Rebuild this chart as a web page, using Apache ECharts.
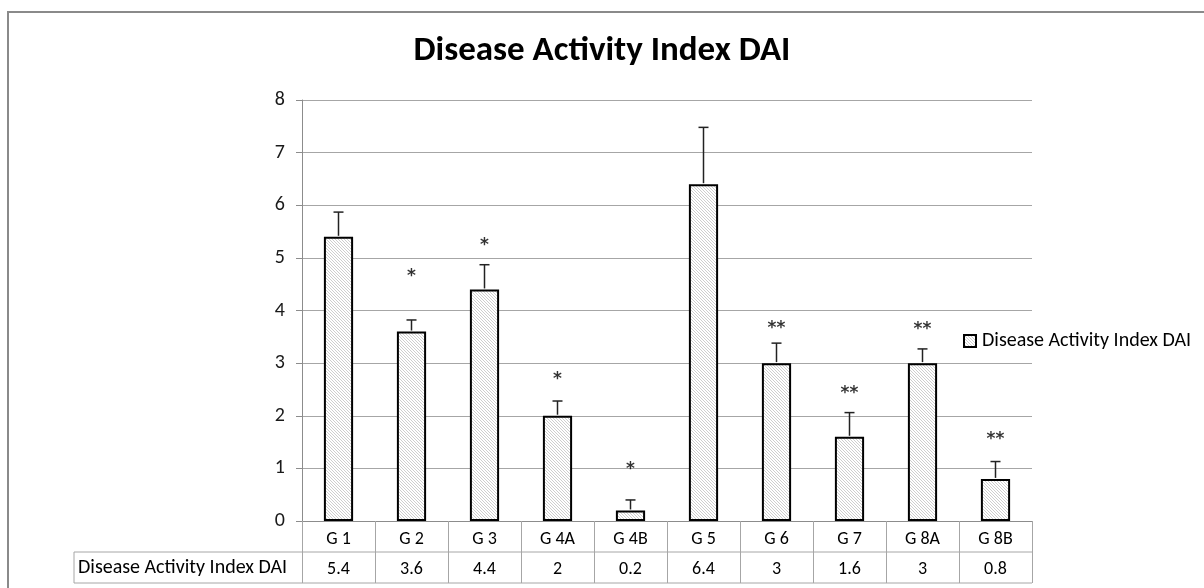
<!DOCTYPE html>
<html>
<head>
<meta charset="utf-8">
<script src="https://cdn.jsdelivr.net/npm/echarts@6/dist/echarts.min.js"></script>
<style>
html,body{margin:0;padding:0;background:#fff;}
#chart{width:1204px;height:588px;}
</style>
</head>
<body>
<div id="chart"></div>
<script>
// ---- data ----
const seriesName = 'Disease Activity Index DAI';
const categories = ['G 1', 'G 2', 'G 3', 'G 4A', 'G 4B', 'G 5', 'G 6', 'G 7', 'G 8A', 'G 8B'];
const daiValues = [5.4, 3.6, 4.4, 2, 0.2, 6.4, 3, 1.6, 3, 0.8];
const errValues = [0.47, 0.22, 0.47, 0.28, 0.2, 1.08, 0.38, 0.46, 0.27, 0.33];
const sigLabels = ['', '*', '*', '*', '*', '', '**', '**', '**', '**'];
const sigLevels = [null, 4.71, 5.29, 2.75, 1.03, null, 3.72, 2.47, 3.70, 1.6];
const yTicks = [0, 1, 2, 3, 4, 5, 6, 7, 8];

const FONT = 'Carlito, Lato, "Open Sans", sans-serif';

// hatch pattern
function makePattern() {
  const c = document.createElement('canvas');
  c.width = 3; c.height = 3;
  const g = c.getContext('2d');
  g.fillStyle = '#ffffff';
  g.fillRect(0, 0, 3, 3);
  g.strokeStyle = '#c2c2c2';
  g.lineWidth = 0.8;
  g.beginPath();
  g.moveTo(-1, -1); g.lineTo(4, 4);
  g.moveTo(-1, 2); g.lineTo(1, 4);
  g.moveTo(2, -1); g.lineTo(4, 1);
  g.stroke();
  return c;
}
const pattern = { image: makePattern(), repeat: 'repeat' };

const gridLeft = 302, gridTop = 100, gridRight = 172, gridBottom = 67;
const W = 1204, H = 588;
const tableLeft = 74;
const gridRightX = W - gridRight;
const axisY = H - gridBottom;
const rowH = 31;

const chart = echarts.init(document.getElementById('chart'), null, { renderer: 'canvas' });

const option = {
  animation: false,
  backgroundColor: '#ffffff',
  title: {
    text: 'Disease Activity Index DAI',
    left: 'center',
    top: 29,
    textStyle: { fontFamily: FONT, fontSize: 35, fontWeight: 'bold', color: '#000' }
  },
  legend: {
    data: [{ name: seriesName, icon: 'rect' }],
    left: 958,
    top: 326,
    itemWidth: 12,
    itemHeight: 12,
    itemGap: 4,
    textStyle: { fontFamily: FONT, fontSize: 20, color: '#000', padding: [0, 0, 0, 1] },
    itemStyle: { borderColor: '#000', borderWidth: 2 }
  },
  grid: { left: gridLeft, top: gridTop, right: gridRight, bottom: gridBottom },
  xAxis: [{
    type: 'category',
    data: categories,
    boundaryGap: true,
    axisLine: { show: true, lineStyle: { color: '#8c8c8c', width: 1 } },
    axisTick: { show: true, length: rowH * 2, lineStyle: { color: '#a6a6a6' } },
    axisLabel: { margin: 9, fontFamily: FONT, fontSize: 18, color: '#000' },
    splitLine: { show: false }
  }, {
    type: 'category',
    data: categories,
    position: 'bottom',
    offset: rowH,
    boundaryGap: true,
    axisLine: { show: false },
    axisTick: { show: false },
    axisLabel: {
      margin: 8, fontFamily: FONT, fontSize: 18, color: '#000',
      formatter: function (v, idx) { return String(daiValues[idx]); }
    }
  }],
  yAxis: {
    type: 'value',
    min: yTicks[0],
    max: yTicks[yTicks.length - 1],
    interval: 1,
    axisLine: { show: true, lineStyle: { color: '#8c8c8c' } },
    axisTick: { show: true, length: 6, lineStyle: { color: '#8c8c8c' } },
    axisLabel: { margin: 17, fontFamily: FONT, fontSize: 20, color: '#1a1a1a' },
    splitLine: { show: true, lineStyle: { color: '#a6a6a6', width: 1 } }
  },
  series: [{
    name: seriesName,
    type: 'bar',
    data: daiValues,
    barWidth: '40%',
    itemStyle: { color: pattern, borderColor: '#000', borderWidth: 2 },
    z: 2
  }, {
    name: 'err',
    type: 'custom',
    data: categories.map((c, i) => [i, daiValues[i], errValues[i]]),
    encode: { x: 0, y: 1 },
    z: 3,
    renderItem: function (params, api) {
      const x = api.value(0), y = api.value(1), e = api.value(2);
      const b = api.coord([x, y]);
      const t = api.coord([x, y + e]);
      const st = { stroke: '#222', lineWidth: 1.5 };
      return {
        type: 'group',
        children: [
          { type: 'line', shape: { x1: b[0], y1: b[1] - 1, x2: t[0], y2: t[1] }, style: st },
          { type: 'line', shape: { x1: t[0] - 5, y1: t[1], x2: t[0] + 5, y2: t[1] }, style: st }
        ]
      };
    }
  }, {
    name: 'sig',
    type: 'scatter',
    symbolSize: 0,
    z: 4,
    data: categories.map((c, i) => sigLevels[i] == null ? [i, null] : [i, sigLevels[i]]),
    label: {
      show: true,
      position: 'inside',
      offset: [0, 3],
      fontFamily: '"DejaVu Sans", sans-serif',
      fontSize: 17,
      fontWeight: 'bold',
      color: '#000',
      formatter: function (p) { return sigLabels[p.dataIndex]; }
    }
  }],
  graphic: [
    { type: 'rect', shape: { x: 8, y: 12, width: 1220, height: 620 }, style: { fill: null, stroke: '#8a8a8a', lineWidth: 2 }, silent: true },
    { type: 'line', shape: { x1: tableLeft, y1: axisY + rowH, x2: gridRightX, y2: axisY + rowH }, style: { stroke: '#a6a6a6', lineWidth: 1 } },
    { type: 'line', shape: { x1: tableLeft, y1: axisY + 2 * rowH, x2: gridRightX, y2: axisY + 2 * rowH }, style: { stroke: '#a6a6a6', lineWidth: 1 } },
    { type: 'line', shape: { x1: tableLeft, y1: axisY + rowH, x2: tableLeft, y2: axisY + 2 * rowH }, style: { stroke: '#a6a6a6', lineWidth: 1 } },
    { type: 'text', left: tableLeft + 4, top: axisY + rowH + 6, style: { text: seriesName, font: '20px ' + FONT, fill: '#000' } }
  ]
};
chart.setOption(option);
</script>
</body>
</html>
